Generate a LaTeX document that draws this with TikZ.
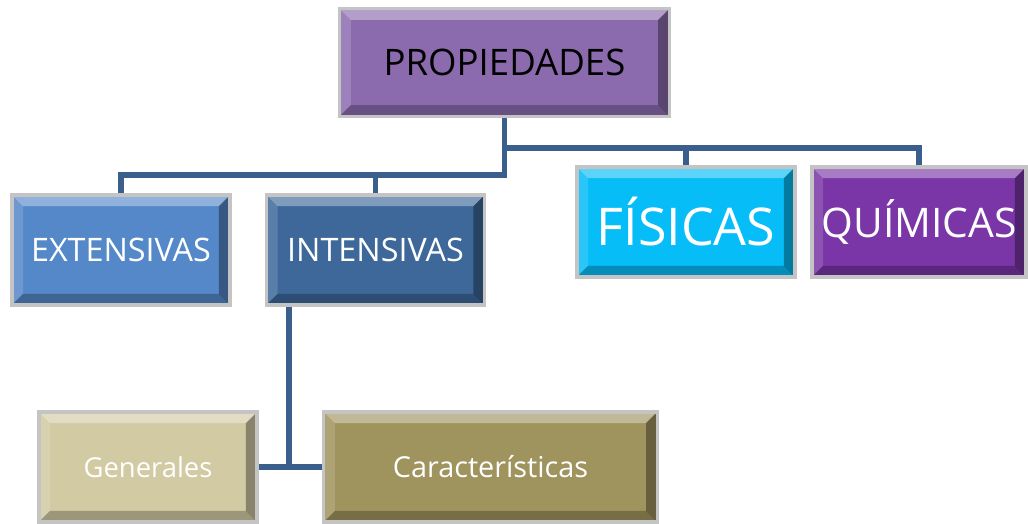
\documentclass[tikz,border=0pt]{standalone}
\usepackage{fontspec}
\setmainfont{Open Sans}
\usetikzlibrary{positioning,calc}

\definecolor{propc}{HTML}{8B6BAE}
\definecolor{extc}{HTML}{5588C8}
\definecolor{intc}{HTML}{3D6899}
\definecolor{fisc}{HTML}{06BDF8}
\definecolor{quic}{HTML}{7A35A6}
\definecolor{genc}{HTML}{D2CAA3}
\definecolor{carc}{HTML}{9F935E}
\definecolor{connc}{HTML}{3A5F8C}
\definecolor{framec}{HTML}{C4C4C4}

\tikzset{
  bevel/.style={path picture={
      \fill[white,opacity=.35] (path picture bounding box.north west) -- (path picture bounding box.north east)
        -- ([shift={(-8pt,-8pt)}]path picture bounding box.north east) -- ([shift={(8pt,-8pt)}]path picture bounding box.north west) -- cycle;
      \fill[white,opacity=.15] (path picture bounding box.north west) -- (path picture bounding box.south west)
        -- ([shift={(8pt,8pt)}]path picture bounding box.south west) -- ([shift={(8pt,-8pt)}]path picture bounding box.north west) -- cycle;
      \fill[black,opacity=.25] (path picture bounding box.south west) -- (path picture bounding box.south east)
        -- ([shift={(-8pt,8pt)}]path picture bounding box.south east) -- ([shift={(8pt,8pt)}]path picture bounding box.south west) -- cycle;
      \fill[black,opacity=.35] (path picture bounding box.north east) -- (path picture bounding box.south east)
        -- ([shift={(-8pt,8pt)}]path picture bounding box.south east) -- ([shift={(-8pt,-8pt)}]path picture bounding box.north east) -- cycle;
  }}
}

\begin{document}
\begin{tikzpicture}[x=0.025cm,y=-0.025cm,
    box/.style={rectangle,draw=framec,line width=2.5pt,bevel,text=white,
                minimum width=5.46cm,minimum height=2.76cm,inner sep=0pt},
    conn/.style={draw=connc,line width=4.2pt}]
  \useasboundingbox (0,0) rectangle (1028,524);

  \path (504.5,62.5) node (prop) [box,fill=propc,text=black,minimum width=8.24cm,minimum height=2.69cm,
                                  font=\fontsize{26}{30}\selectfont] {PROPIEDADES}
        (121,250)    node (ext)  [box,fill=extc,font=\fontsize{23}{27}\selectfont] {EXTENSIVAS}
        (375.5,250)  node (int)  [box,fill=intc,font=\fontsize{23}{27}\selectfont] {INTENSIVAS}
        (686,222)    node (fis)  [box,fill=fisc,font=\fontsize{37}{42}\selectfont] {FÍSICAS}
        (919,222)    node (qui)  [box,fill=quic,minimum width=5.36cm,font=\fontsize{29}{34}\selectfont] {QUÍMICAS}
        (148,467)    node (gen)  [box,fill=genc,font=\fontsize{19.5}{23}\selectfont] {Generales}
        (490.5,467)  node (car)  [box,fill=carc,minimum width=8.34cm,font=\fontsize{20.5}{24}\selectfont] {Características};

  \coordinate (lbar) at (0,175);
  \coordinate (rbar) at (0,148);
  \coordinate (ileg) at (289,466);

  % ramas de propiedades
  \draw[conn] (prop.south) |- (ext.north |- lbar) -- (ext.north);
  \draw[conn] (int.north |- lbar) -- (int.north);
  \draw[conn] (prop.south |- rbar) -| (qui.north);
  \draw[conn] (fis.north |- rbar) -- (fis.north);

  % intensivas
  \draw[conn] (int.south -| ileg) -- (ileg);
  \draw[conn] (gen.east) -- (car.west);
\end{tikzpicture}
\end{document}
